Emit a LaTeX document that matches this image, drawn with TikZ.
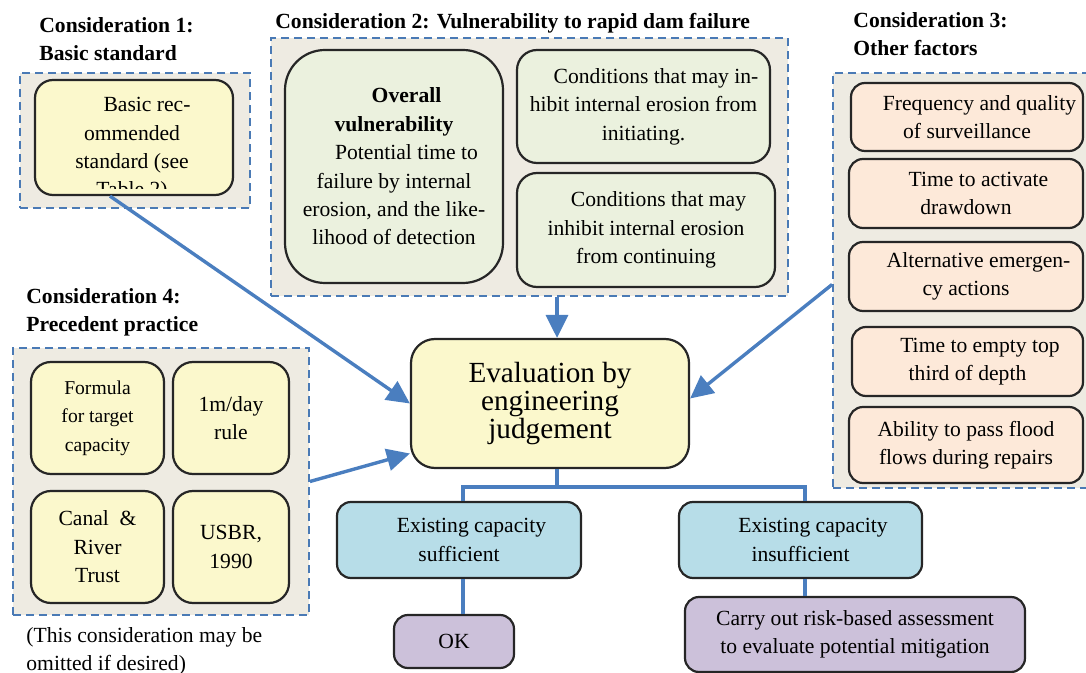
\documentclass[tikz,border=0pt]{standalone}
\usepackage{fontspec}
\setmainfont{Liberation Serif}
\usetikzlibrary{arrows.meta}

\definecolor{panelbg}{HTML}{EEEBE2}
\definecolor{dashblue}{HTML}{4A7AB5}
\definecolor{arrblue}{HTML}{4A7EBF}
\definecolor{boxyellow}{HTML}{FBF8CC}
\definecolor{boxgreen}{HTML}{EBF1DE}
\definecolor{boxpeach}{HTML}{FDE9D9}
\definecolor{boxblue}{HTML}{B7DDE8}
\definecolor{boxpurple}{HTML}{CCC1DA}

\newcommand{\ind}{\hspace*{12.5pt}}

\begin{document}
\begin{tikzpicture}[x=0.5pt, y=-0.5pt,
  every node/.style={font=\fontsize{10.8}{14.2}\selectfont, inner sep=0pt, align=center},
  panel/.style={draw=dashblue, fill=panelbg, line width=0.9pt, dash pattern=on 4pt off 2.5pt},
  box/.style={draw=black!85, line width=1.1pt, rounded corners=7pt},
  title/.style={font=\fontsize{10.8}{14.2}\selectfont\bfseries, anchor=north west, align=left},
  arr/.style={draw=arrblue, line width=1.7pt, -{Triangle[length=11.5pt,width=11pt]}},
  tree/.style={draw=arrblue, line width=1.7pt}]
\useasboundingbox (0,0) rectangle (1086,673);

% dashed panels
\node[panel, minimum width=115pt, minimum height=67.5pt] (p1) at (135,140.5) {};
\node[panel, minimum width=258.5pt, minimum height=129pt] (p2) at (529.5,167) {};
\node[panel, minimum width=129.5pt, minimum height=207.5pt] (p3) at (962.5,280.5) {};
\node[panel, minimum width=148pt, minimum height=133.5pt] (p4) at (161,481.5) {};

% titles
\node[title] (t1) at (39,17) {Consideration 1:\\Basic standard};
\node[title] (t2) at (275,13) {Consideration 2: Vulnerability to rapid dam failure};
\node[title] (t3) at (853,12) {Consideration 3:\\Other factors};
\node[title] (t4) at (26,288) {Consideration 4:\\Precedent practice};
\node[anchor=north west, align=left] (note) at (26,627) {(This consideration may be\\omitted if desired)};

% consideration 1
\node[box, fill=boxyellow, rounded corners=9pt, minimum width=99pt, minimum height=57.5pt] (basic) at (134,137.5) {};
\begin{scope}
\clip[rounded corners=8pt] (36,81) rectangle (232,189);
\node[anchor=north] (basictxt) at (132,97) {\hspace*{15pt}Basic rec-\\ommended\\standard (see\\Table 2)};
\end{scope}

% consideration 2
\node[box, fill=boxgreen, rounded corners=20pt, minimum width=109pt, minimum height=116.5pt] (overall) at (394,166.5)
  {\ind\textbf{Overall}\\\textbf{vulnerability}\\\ind Potential time to\\failure by internal\\erosion, and the like-\\lihood of detection};
\node[box, fill=boxgreen, rounded corners=10pt, minimum width=126.5pt, minimum height=56.5pt] (init) at (643.5,106.5)
  {\ind Conditions that may in-\\hibit internal erosion from\\initiating.};
\node[box, fill=boxgreen, rounded corners=10pt, minimum width=129pt, minimum height=57pt] (cont) at (646,230)
  {\ind Conditions that may\\inhibit internal erosion\\from continuing};

% consideration 3
\node[box, fill=boxpeach, minimum width=116pt, minimum height=34pt] (f1) at (967,117) {\ind Frequency and quality\\of surveillance};
\node[box, fill=boxpeach, minimum width=117pt, minimum height=34.5pt] (f2) at (966,193.5) {\ind Time to activate\\drawdown};
\node[box, fill=boxpeach, minimum width=117pt, minimum height=34.5pt] (f3) at (966,276.5) {\ind Alternative emergen-\\cy actions};
\node[box, fill=boxpeach, minimum width=115.5pt, minimum height=34.5pt] (f4) at (967.5,361.5) {\ind Time to empty top\\third of depth};
\node[box, fill=boxpeach, minimum width=117pt, minimum height=38pt] (f5) at (966,445) {Ability to pass flood\\flows during repairs};

% consideration 4
\node[box, fill=boxyellow, rounded corners=10pt, minimum width=66.5pt, minimum height=56pt, font=\fontsize{9.8}{14.2}\selectfont] (formula) at (97.5,418) {Formula\\for target\\capacity};
\node[box, fill=boxyellow, rounded corners=10pt, minimum width=58pt, minimum height=56pt] (rule) at (231,418) {1m/day\\rule};
\node[box, fill=boxyellow, rounded corners=10pt, minimum width=66.5pt, minimum height=56pt] (crt) at (97.5,547) {Canal~~\&\\River\\Trust};
\node[box, fill=boxyellow, rounded corners=10pt, minimum width=58pt, minimum height=56pt] (usbr) at (231,547) {USBR,\\1990};

% evaluation and outcomes
\node[box, fill=boxyellow, rounded corners=12pt, minimum width=139pt, minimum height=64.5pt, font=\fontsize{14.6}{14.2}\selectfont] (eval) at (550,403.5)
  {Evaluation by\\engineering\\judgement};
\node[box, fill=boxblue, minimum width=122pt, minimum height=38pt] (suff) at (459,540) {\ind Existing capacity\\sufficient};
\node[box, fill=boxpurple, minimum width=60pt, minimum height=26.5pt] (ok) at (454,641.5) {OK};
\node[box, fill=boxblue, minimum width=121.5pt, minimum height=38pt] (insuff) at (800.5,540) {\ind Existing capacity\\insufficient};
\node[box, fill=boxpurple, minimum width=170pt, minimum height=37.5pt] (carry) at (855,634.5)
  {Carry out risk-based assessment\\to evaluate potential mitigation};

% connectors
\coordinate (split) at (557,487);
\coordinate (lft) at (463,487);
\coordinate (rgt) at (805,487);
\draw[arr] ([xshift=-12pt]basic.south) -- (eval.west);
\draw[arr] (p2.south -| split) -- (eval.north -| split);
\draw[arr] ([yshift=-2pt]p3.west) -- ([yshift=2.5pt]eval.east);
\draw[arr] (p4.east) -- ([yshift=-25pt]eval.west);
\draw[tree] (eval.south -| split) -- (split);
\draw[tree] (suff.north -| lft) -- (lft) -- (rgt) -- (insuff.north -| rgt);
\draw[tree] (suff.south -| lft) -- (ok.north -| lft);
\draw[tree] (insuff.south -| rgt) -- (carry.north -| rgt);

\end{tikzpicture}
\end{document}
